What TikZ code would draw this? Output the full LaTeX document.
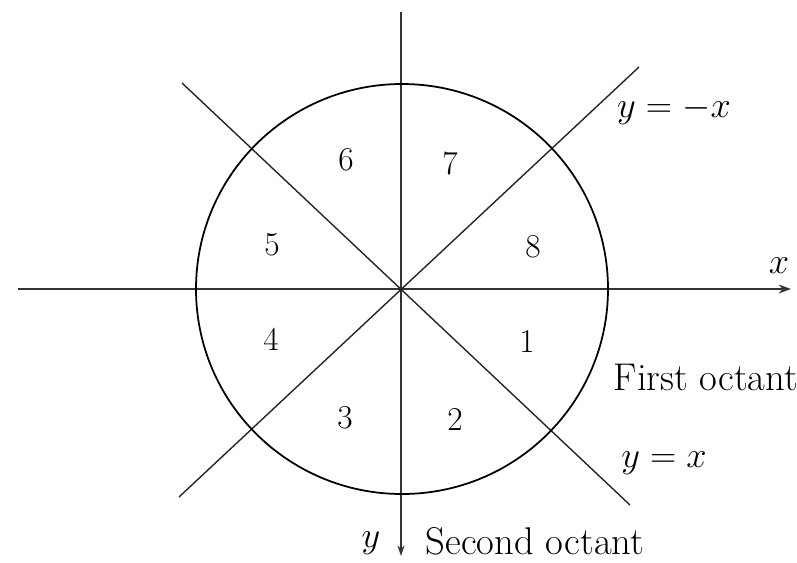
\documentclass[tikz,border=0pt]{standalone}
\usetikzlibrary{arrows.meta}
\begin{document}
\begin{tikzpicture}[x=0.02cm,y=-0.02cm,
  axis/.style={line width=1pt,draw=black!80},
  diag/.style={line width=0.8pt,draw=black!85},
  lbl/.style={font=\fontsize{22}{26}\selectfont,inner sep=0pt},
  num/.style={font=\fontsize{19}{22}\selectfont,inner sep=0pt}]
\useasboundingbox (0,0) rectangle (797,562);
\coordinate (O) at (402,289);
\coordinate (xl) at (18,289);
\coordinate (xr) at (791,289);
\coordinate (yt) at (401,12);
\coordinate (yb) at (401,556);
\coordinate (nw) at (182,83);
\coordinate (se) at (630,505);
\coordinate (sw) at (179,497);
\coordinate (ne) at (639,67);
% axes
\draw[axis,-{Stealth[length=7pt,width=5pt]}] (xl) -- (xr);
\draw[axis,-{Stealth[length=6pt,width=4pt]}] (yt) -- (yb);
% diagonals
\draw[diag] (nw) -- (se);
\draw[diag] (sw) -- (ne);
% circle
\draw[line width=1pt] (O) circle[x radius=206, y radius=205];
% octant numbers
\node[num] (n6) at (346,160) {6};
\node[num] (n7) at (450,163) {7};
\node[num] (n5) at (272,245) {5};
\node[num] (n8) at (533,247) {8};
\node[num] (n4) at (271,339) {4};
\node[num] (n1) at (527,341) {1};
\node[num] (n3) at (345,418) {3};
\node[num] (n2) at (455,419) {2};
% labels
\node[lbl] (lx) at (779,266) {$x$};
\node[lbl] (lnegx) at (674,110) {$y=-x$};
\node[lbl] (lfirst) at (706,377) {First octant};
\node[lbl] (lyx) at (664,463) {$y=x$};
\node[lbl] (ly) at (371,543) {$y$};
\node[lbl] (lsecond) at (535,541) {Second octant};
\end{tikzpicture}
\end{document}
